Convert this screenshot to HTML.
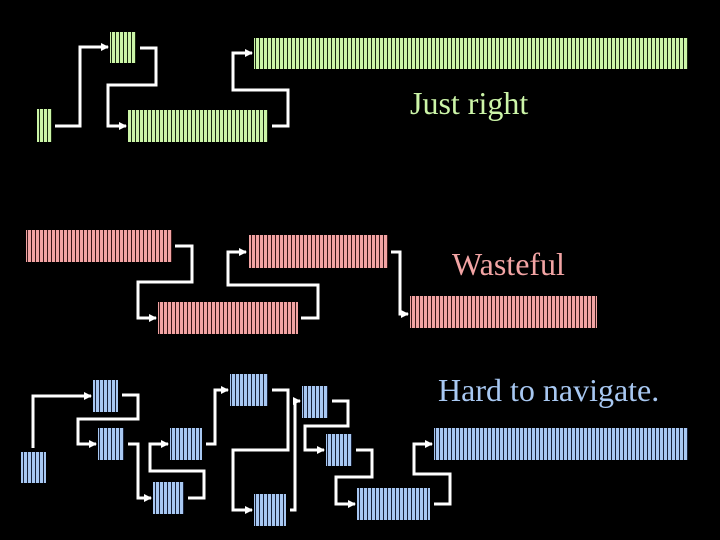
<!DOCTYPE html>
<html><head><meta charset="utf-8"><style>
html,body{margin:0;padding:0;background:#000;}
svg{display:block}
text{font-family:"Liberation Serif",serif;font-size:32px}
</style></head><body>
<svg width="720" height="540" viewBox="0 0 720 540" xmlns="http://www.w3.org/2000/svg">
<defs>
<pattern id="g" width="4" height="10" patternUnits="userSpaceOnUse"><rect width="4" height="10" fill="#ccf5a8"/><rect x="3" width="1" height="10" fill="#1a2a10"/></pattern>
<pattern id="r" width="4" height="10" patternUnits="userSpaceOnUse"><rect width="4" height="10" fill="#f2a4a4"/><rect x="3" width="1" height="10" fill="#3a1818"/></pattern>
<pattern id="b" width="4" height="10" patternUnits="userSpaceOnUse"><rect width="4" height="10" fill="#a8c8f2"/><rect x="3" width="1" height="10" fill="#18223a"/></pattern>
<marker id="a" markerWidth="8" markerHeight="8" refX="7" refY="4" orient="auto" markerUnits="userSpaceOnUse"><path d="M0,0 L8,4 L0,8 Z" fill="#fff"/></marker>
</defs>
<g fill="none" stroke="#fff" stroke-width="3" marker-end="url(#a)">
<polyline points="55,126 80,126 80,47 108,47"/>
<polyline points="140,48 156,48 156,85 108,85 108,126 126,126"/>
<polyline points="272,126 288,126 288,90 233,90 233,53 252,53"/>
<polyline points="175,246 192,246 192,282 138,282 138,318 156,318"/>
<polyline points="301,318 318,318 318,285 228,285 228,252 246,252"/>
<polyline points="391,252 400,252 400,314 408,314"/>
<polyline points="33,448 33,396 91,396"/>
<polyline points="122,395 138,395 138,419 78,419 78,444 96,444"/>
<polyline points="128,444 138,444 138,498 151,498"/>
<polyline points="188,498 204,498 204,471 150,471 150,444 168,444"/>
<polyline points="206,444 215,444 215,390 228,390"/>
<polyline points="272,390 288,390 288,450 233,450 233,510 252,510"/>
<polyline points="290,510 295,510 295,401 300,401"/>
<polyline points="332,401 348,401 348,426 305,426 305,450 324,450"/>
<polyline points="356,450 372,450 372,477 336,477 336,504 355,504"/>
<polyline points="434,504 450,504 450,474 414,474 414,444 432,444"/>
</g>
<g fill="url(#g)">
<rect x="37" y="109" width="15" height="33"/>
<rect x="110" y="32" width="26" height="31"/>
<rect x="128" y="110" width="140" height="32"/>
<rect x="254" y="38" width="434" height="31"/>
</g>
<g fill="url(#r)">
<rect x="26" y="230" width="146" height="32"/>
<rect x="249" y="235" width="139" height="33"/>
<rect x="158" y="302" width="140" height="32"/>
<rect x="410" y="296" width="187" height="32"/>
</g>
<g fill="url(#b)">
<rect x="21" y="452" width="25" height="31"/>
<rect x="93" y="380" width="25" height="32"/>
<rect x="98" y="428" width="26" height="32"/>
<rect x="153" y="482" width="31" height="32"/>
<rect x="170" y="428" width="32" height="32"/>
<rect x="230" y="374" width="38" height="32"/>
<rect x="254" y="494" width="32" height="32"/>
<rect x="302" y="386" width="26" height="32"/>
<rect x="326" y="434" width="26" height="32"/>
<rect x="357" y="488" width="73" height="32"/>
<rect x="434" y="428" width="254" height="32"/>
</g>
<text x="410" y="114" fill="#ccf5a8">Just right</text>
<text x="452" y="275" fill="#f2a4a4">Wasteful</text>
<text x="438" y="401" fill="#a8c8f2">Hard to navigate.</text>
</svg>
</body></html>
